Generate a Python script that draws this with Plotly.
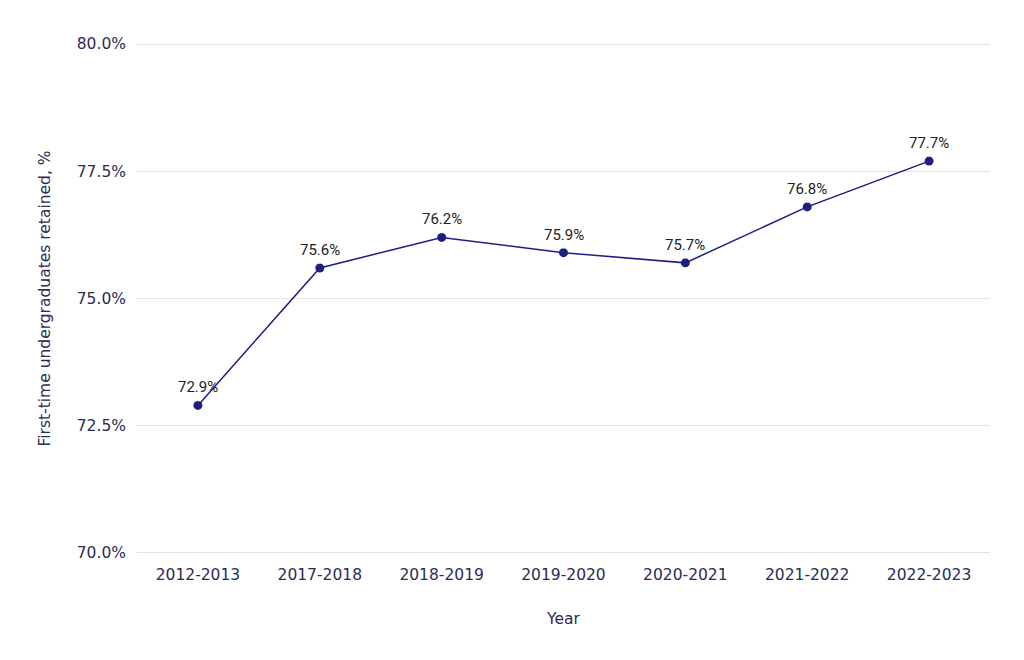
import plotly.graph_objects as go

years = ["2012-2013", "2017-2018", "2018-2019", "2019-2020", "2020-2021", "2021-2022", "2022-2023"]
retained = [72.9, 75.6, 76.2, 75.9, 75.7, 76.8, 77.7]
y_ticks = [70.0, 72.5, 75.0, 77.5, 80.0]
y_tick_labels = ["70.0%", "72.5%", "75.0%", "77.5%", "80.0%"]
labels = [f"{v:.1f}%" for v in retained]

fig = go.Figure(go.Scatter(
    x=years, y=retained, mode="lines+markers",
    line=dict(color="#1c1f80", width=1.5),
    marker=dict(color="#1c1f80", size=9),
    cliponaxis=False,
))

for x, y, t in zip(years, retained, labels):
    fig.add_annotation(
        x=x, y=y, text=t, showarrow=True, arrowhead=0, arrowwidth=1,
        arrowcolor="#ececec", ax=0, ay=-7, standoff=4,
        font=dict(family="Roboto, Arial, sans-serif", size=15, color="#222222"),
        yanchor="bottom",
    )

fig.update_layout(
    width=1016, height=652,
    margin=dict(l=129, r=34, t=35, b=106),
    paper_bgcolor="white", plot_bgcolor="white",
    showlegend=False,
    font=dict(family="DejaVu Sans", size=15.5, color="#2b2b55"),
    xaxis=dict(
        title=dict(text="Year", standoff=30, font=dict(size=15.5)),
        range=[-0.5, 6.5],
        showgrid=False, showline=False, zeroline=False,
        tickfont=dict(size=15.5), ticks="", ticklabelstandoff=9,
    ),
    yaxis=dict(
        title=dict(text="First-time undergraduates retained, %", standoff=22, font=dict(size=15.5)),
        range=[69.98, 80.02], tickvals=y_ticks, ticktext=y_tick_labels,
        showgrid=True, gridcolor="#e3e3e3", gridwidth=1,
        zeroline=False, showline=False, ticks="",
        tickfont=dict(size=15.5), ticklabelstandoff=10,
    ),
)

fig.write_html("out.html")
